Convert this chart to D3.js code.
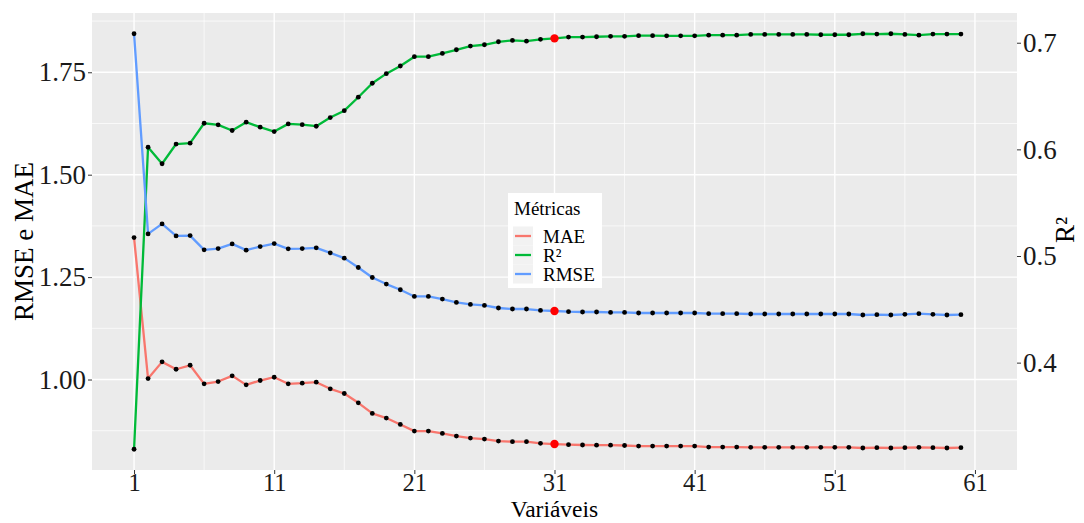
<!DOCTYPE html>
<html>
<head>
<meta charset="utf-8">
<script src="https://cdn.jsdelivr.net/npm/d3@7"></script>
<style>
  body { margin: 0; background: #ffffff; }
  text { font-family: "Liberation Serif", "Times New Roman", serif; }
</style>
</head>
<body>
<svg id="chart" width="1084" height="523"></svg>
<script>
// Number of variables kept in the model
const variaveis = [1, 2, 3, 4, 5, 6, 7, 8, 9, 10, 11, 12, 13, 14, 15, 16, 17, 18, 19, 20,
  21, 22, 23, 24, 25, 26, 27, 28, 29, 30, 31, 32, 33, 34, 35, 36, 37, 38, 39, 40,
  41, 42, 43, 44, 45, 46, 47, 48, 49, 50, 51, 52, 53, 54, 55, 56, 57, 58, 59, 60];

const mae = [1.3465, 1.0024, 1.0431, 1.0251, 1.0348, 0.9895, 0.9951, 1.0090, 0.9870, 0.9976,
  1.0056, 0.9895, 0.9910, 0.9935, 0.9773, 0.9659, 0.9432, 0.9172, 0.9060, 0.8904,
  0.8741, 0.8741, 0.8685, 0.8620, 0.8571, 0.8547, 0.8498, 0.8483, 0.8483, 0.8442,
  0.8425, 0.8410, 0.8402, 0.8397, 0.8397, 0.8389, 0.8376, 0.8376, 0.8376, 0.8376,
  0.8376, 0.8352, 0.8352, 0.8352, 0.8344, 0.8344, 0.8344, 0.8344, 0.8344, 0.8344,
  0.8344, 0.8344, 0.8328, 0.8336, 0.8328, 0.8336, 0.8344, 0.8336, 0.8328, 0.8336];

const r2 = [0.3188, 0.6020, 0.5865, 0.6050, 0.6058, 0.6245, 0.6230, 0.6177, 0.6255, 0.6208,
  0.6167, 0.6239, 0.6232, 0.6217, 0.6298, 0.6363, 0.6489, 0.6620, 0.6710, 0.6782,
  0.6869, 0.6869, 0.6900, 0.6934, 0.6969, 0.6981, 0.7009, 0.7022, 0.7015, 0.7032,
  0.7041, 0.7053, 0.7053, 0.7056, 0.7060, 0.7060, 0.7066, 0.7066, 0.7065, 0.7065,
  0.7065, 0.7071, 0.7071, 0.7071, 0.7078, 0.7078, 0.7078, 0.7078, 0.7078, 0.7075,
  0.7075, 0.7075, 0.7084, 0.7081, 0.7084, 0.7078, 0.7071, 0.7081, 0.7081, 0.7081];

const rmse = [1.8440, 1.3555, 1.3798, 1.3506, 1.3514, 1.3165, 1.3197, 1.3311, 1.3158, 1.3246,
  1.3319, 1.3190, 1.3197, 1.3214, 1.3092, 1.2963, 1.2734, 1.2491, 1.2330, 1.2191,
  1.2028, 1.2028, 1.1965, 1.1882, 1.1834, 1.1809, 1.1746, 1.1721, 1.1721, 1.1687,
  1.1673, 1.1656, 1.1648, 1.1648, 1.1639, 1.1639, 1.1624, 1.1624, 1.1624, 1.1624,
  1.1624, 1.1607, 1.1607, 1.1607, 1.1600, 1.1600, 1.1600, 1.1600, 1.1600, 1.1600,
  1.1600, 1.1600, 1.1575, 1.1583, 1.1575, 1.1591, 1.1607, 1.1591, 1.1575, 1.1583];

// Selected model size (highlighted in red)
const melhor = 31;

const xTicks = [1, 11, 21, 31, 41, 51, 61];
const yTicksLeft = [1.00, 1.25, 1.50, 1.75];
const yTicksRight = [0.4, 0.5, 0.6, 0.7];

const metricas = ["MAE", "R²", "RMSE"];
const cores = ["#F8766D", "#00BA38", "#619CFF"];

// R² is drawn on the left scale through this factor, then read on the right axis
const coef = d3.max(rmse) / d3.max(r2);

const series = [
  { nome: metricas[0], cor: cores[0], valores: mae.map((v, i) => ({ x: variaveis[i], y: v })) },
  { nome: metricas[1], cor: cores[1], valores: r2.map((v, i) => ({ x: variaveis[i], y: v * coef })) },
  { nome: metricas[2], cor: cores[2], valores: rmse.map((v, i) => ({ x: variaveis[i], y: v })) }
];

const svg = d3.select("#chart");
const painel = { left: 92, right: 1017, top: 13, bottom: 470 };

// ggplot-like 5% expansion of the limits
function expande(lo, hi) {
  const d = (hi - lo) * 0.05;
  return [lo - d, hi + d];
}

const x = d3.scaleLinear()
  .domain(expande(xTicks[0], xTicks[xTicks.length - 1]))
  .range([painel.left, painel.right]);

const todos = series.flatMap(s => s.valores.map(p => p.y));
const yDom = expande(d3.min(todos), d3.max(todos));
const y = d3.scaleLinear().domain(yDom).range([painel.bottom, painel.top]);
const yR = d3.scaleLinear().domain(yDom.map(v => v / coef)).range([painel.bottom, painel.top]);

// Panel background
svg.append("rect")
  .attr("x", painel.left).attr("y", painel.top)
  .attr("width", painel.right - painel.left)
  .attr("height", painel.bottom - painel.top)
  .attr("fill", "#EBEBEB");

const grade = svg.append("g");
const xMinor = xTicks.slice(0, -1).map(v => v + 5);
const passoY = yTicksLeft[1] - yTicksLeft[0];
const yMinor = yTicksLeft.map(v => v - passoY / 2)
  .concat([yTicksLeft[yTicksLeft.length - 1] + passoY / 2])
  .filter(v => v > yDom[0] && v < yDom[1]);

grade.selectAll(".hmin").data(yMinor).join("line")
  .attr("x1", painel.left).attr("x2", painel.right)
  .attr("y1", d => y(d)).attr("y2", d => y(d))
  .attr("stroke", "#ffffff").attr("stroke-width", 0.7);
grade.selectAll(".vmin").data(xMinor).join("line")
  .attr("x1", d => x(d)).attr("x2", d => x(d))
  .attr("y1", painel.top).attr("y2", painel.bottom)
  .attr("stroke", "#ffffff").attr("stroke-width", 0.7);
grade.selectAll(".hmaj").data(yTicksLeft).join("line")
  .attr("x1", painel.left).attr("x2", painel.right)
  .attr("y1", d => y(d)).attr("y2", d => y(d))
  .attr("stroke", "#ffffff").attr("stroke-width", 1.4);
grade.selectAll(".vmaj").data(xTicks).join("line")
  .attr("x1", d => x(d)).attr("x2", d => x(d))
  .attr("y1", painel.top).attr("y2", painel.bottom)
  .attr("stroke", "#ffffff").attr("stroke-width", 1.4);

// Lines
const linha = d3.line().x(d => x(d.x)).y(d => y(d.y));
svg.append("g").selectAll("path").data(series).join("path")
  .attr("d", s => linha(s.valores))
  .attr("fill", "none")
  .attr("stroke", s => s.cor)
  .attr("stroke-width", 2.3)
  .attr("stroke-linejoin", "round");

// Points
const pontos = series.flatMap(s => s.valores);
svg.append("g").selectAll("circle").data(pontos.filter(p => p.x !== melhor)).join("circle")
  .attr("cx", d => x(d.x)).attr("cy", d => y(d.y))
  .attr("r", 2.4).attr("fill", "#000000");
svg.append("g").selectAll("circle").data(pontos.filter(p => p.x === melhor)).join("circle")
  .attr("cx", d => x(d.x)).attr("cy", d => y(d.y))
  .attr("r", 4.2).attr("fill", "#FF0000");

// Axes
function estiloEixo(tamanho) {
  return g => {
    g.select(".domain").remove();
    g.selectAll(".tick line").attr("stroke", "#333333").attr("stroke-width", 1);
    g.selectAll(".tick text")
      .attr("fill", "#1a1a1a")
      .attr("font-size", tamanho);
  };
}

svg.append("g")
  .attr("transform", `translate(0,${painel.bottom})`)
  .call(d3.axisBottom(x).tickValues(xTicks).tickFormat(d3.format("d")).tickSize(4).tickPadding(0))
  .call(estiloEixo(24.5));

svg.append("g")
  .attr("transform", `translate(${painel.left},0)`)
  .call(d3.axisLeft(y).tickValues(yTicksLeft).tickFormat(d3.format(".2f")).tickSize(4).tickPadding(2))
  .call(estiloEixo(27));

svg.append("g")
  .attr("transform", `translate(${painel.right},0)`)
  .call(d3.axisRight(yR).tickValues(yTicksRight).tickFormat(d3.format(".1f")).tickSize(4).tickPadding(2))
  .call(estiloEixo(27));

// Axis titles
svg.append("text")
  .attr("x", (painel.left + painel.right) / 2).attr("y", 517)
  .attr("text-anchor", "middle")
  .attr("font-size", 23.5).attr("fill", "#000")
  .text("Variáveis");

svg.append("text")
  .attr("transform", `translate(33,${(painel.top + painel.bottom) / 2}) rotate(-90)`)
  .attr("text-anchor", "middle")
  .attr("font-size", 27).attr("fill", "#000")
  .text("RMSE e MAE");

svg.append("text")
  .attr("transform", "translate(1065,230) rotate(-90)")
  .attr("text-anchor", "middle")
  .attr("dominant-baseline", "central")
  .attr("font-size", 27).attr("fill", "#000")
  .text("R²");

// Legend
const leg = svg.append("g").attr("transform", "translate(508,193)");
leg.append("rect").attr("width", 94).attr("height", 95).attr("fill", "#ffffff");
leg.append("text").attr("x", 6).attr("y", 22)
  .attr("font-size", 19).attr("fill", "#000").text("Métricas");
const passoLeg = 19;
const itens = leg.selectAll(".item").data(series).join("g")
  .attr("transform", (d, i) => `translate(5,${33.5 + i * passoLeg})`);
itens.append("rect").attr("width", 20).attr("height", passoLeg).attr("fill", "#F2F2F2");
itens.append("line")
  .attr("x1", 2).attr("x2", 18)
  .attr("y1", passoLeg / 2).attr("y2", passoLeg / 2)
  .attr("stroke", d => d.cor).attr("stroke-width", 2.3);
itens.append("text")
  .attr("x", 30).attr("y", passoLeg / 2)
  .attr("dy", "0.35em")
  .attr("font-size", 19).attr("fill", "#000")
  .text(d => d.nome);
</script>
</body>
</html>
